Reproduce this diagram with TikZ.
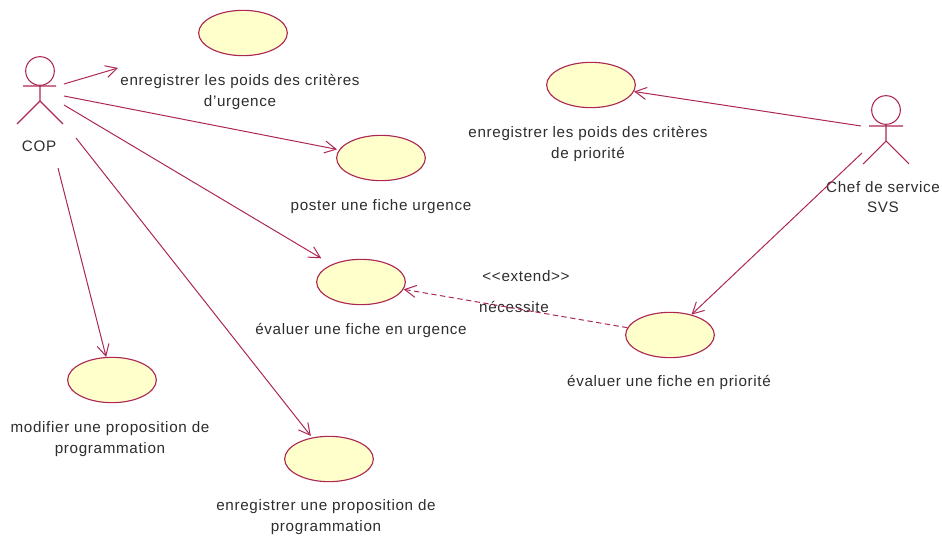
\documentclass[tikz,border=0pt]{standalone}
\usepackage{fontspec}
\setmainfont{Liberation Sans}[LetterSpace=4.4]
\usetikzlibrary{arrows.meta,shapes.geometric}
\definecolor{umlline}{RGB}{172,40,84}
\definecolor{umlfill}{RGB}{255,255,204}
\definecolor{umltext}{RGB}{45,45,45}
\tikzset{
  x=0.75pt,y=-0.75pt,
  usecase/.style={ellipse,draw=umlline,fill=umlfill,line width=0.85pt,minimum width=66.5pt,minimum height=34pt,inner sep=0pt},
  lbl/.style={text=umltext,font=\fontsize{11.4}{15.6}\selectfont,align=center,inner sep=0pt},
  assoc/.style={draw=umlline,line width=0.75pt,-{Straight Barb[length=8.5pt,width=9pt,line width=0.75pt]}},
  dep/.style={assoc,dashed,dash pattern=on 4pt off 2.6pt},
  stick/.style={draw=umlline,line width=0.8pt}
}
\begin{document}
\begin{tikzpicture}
\useasboundingbox (0,0) rectangle (942,538);
% use cases
\node[usecase] (e1) at (243,33) {};
\node[usecase] (e2) at (591,85) {};
\node[usecase] (e3) at (381,158) {};
\node[usecase] (e4) at (361,282) {};
\node[usecase] (e5) at (670,335) {};
\node[usecase] (e6) at (112,380) {};
\node[usecase] (e7) at (329,459) {};
% labels
\node[lbl] (l1) at (240,92) {enregistrer les poids des critères\\d'urgence};
\node[lbl] (l2) at (588,144) {enregistrer les poids des critères\\de priorité};
\node[lbl] (l3) at (381,207) {poster une fiche urgence};
\node[lbl] (l4) at (361,330) {évaluer une fiche en urgence};
\node[lbl] (l5) at (669,382) {évaluer une fiche en priorité};
\node[lbl] (l6) at (110,439) {modifier une proposition de\\programmation};
\node[lbl] (l7) at (326,517) {enregistrer une proposition de\\programmation};
\node[lbl] (copl) at (39,146) {COP};
\node[lbl] (chefl) at (883,197) {Chef de service\\SVS};
\node[lbl] (ext) at (526,276) {<{}<extend>{}>};
\node[lbl] (nec) at (514,307) {nécessite};
% actors
\node[circle,stick,minimum size=21.5pt,inner sep=0pt] (copH) at (40,71) {};
\coordinate (copW) at (23,86);
\coordinate (copE) at (56,86);
\coordinate (copB) at (40,101);
\coordinate (copL) at (17,124);
\coordinate (copR) at (63,124);
\draw[stick] (copH.south) -- (copB) (copW) -- (copE) (copL) -- (copB) -- (copR);
\node[circle,stick,minimum size=21.5pt,inner sep=0pt] (chefH) at (886,110) {};
\coordinate (chefW) at (869,126);
\coordinate (chefE) at (903,126);
\coordinate (chefB) at (886,141);
\coordinate (chefL) at (863,164);
\coordinate (chefR) at (909,164);
\draw[stick] (chefH.south) -- (chefB) (chefW) -- (chefE) (chefL) -- (chefB) -- (chefR);
% connectors
\coordinate (s1) at (64,84);
\coordinate (t1) at (118,68);
\coordinate (s3) at (64,96);
\coordinate (s4) at (64,105);
\coordinate (s7) at (76,138);
\coordinate (s6) at (58,168);
\coordinate (s2) at (861,126);
\coordinate (s5) at (862,153);
\draw[assoc] (s1) -- (t1);
\draw[assoc,shorten >=1.5pt] (s3) -- (e3);
\draw[assoc,shorten >=9pt] (s4) -- (e4);
\draw[assoc,shorten >=1.5pt] (s7) -- (e7);
\draw[assoc] (s6) -- (e6);
\draw[assoc] (s2) -- (e2);
\draw[assoc] (s5) -- (e5);
\draw[dep] (e5) -- (e4);
\end{tikzpicture}
\end{document}
